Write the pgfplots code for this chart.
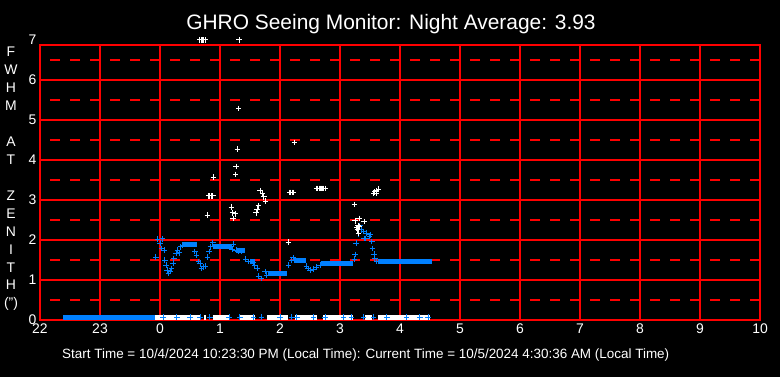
\documentclass[border=0pt]{standalone}
\usepackage{pgfplots}
\pgfplotsset{compat=1.18}
\usepackage{fontspec}
\setmainfont{Liberation Sans}
\definecolor{sblue}{RGB}{0,128,255}
\definecolor{gred}{RGB}{255,0,0}
\begin{document}
\begin{tikzpicture}[x=1bp,y=1bp]
\fill[black] (0,0) rectangle (780,377);
\begin{axis}[
  at={(40bp,57bp)}, anchor=south west,
  scale only axis, width=720bp, height=275bp,
  xmin=-2, xmax=10, ymin=0, ymax=6.875,
  clip=false,
  axis line style={gred, line width=1.5bp},
  xtick={-2,-1,0,1,2,3,4,5,6,7,8,9,10},
  xticklabels={22,23,0,1,2,3,4,5,6,7,8,9,10},
  ytick={0,1,2,3,4,5,6},
  minor ytick={0.5,1.5,2.5,3.5,4.5,5.5,6.5},
  major tick length=0pt, minor tick length=0pt,
  xmajorgrids, ymajorgrids, yminorgrids,
  major grid style={gred, line width=1.5bp},
  minor grid style={gred, line width=1.5bp, dash pattern=on 10bp off 10bp, dash phase=10bp},
  /pgf/number format/assume math mode=true,
  ticklabel style={white, font=\fontsize{14}{16}\selectfont},
  unbounded coords=jump,
]
% zero readings (bands)
\addplot[sblue, line width=5bp, no marks, yshift=2.8bp] coordinates {(-1.61,0) (-0.08,0)};
\addplot[white, line width=5bp, no marks, yshift=2.8bp] coordinates {
 (-0.08,0) (0.67,0) (nan,nan) (0.74,0) (0.77,0) (nan,nan) (0.88,0) (1.17,0) (nan,nan)
 (1.33,0) (1.58,0) (nan,nan) (1.78,0) (2.13,0) (nan,nan) (2.25,0) (2.62,0) (nan,nan)
 (2.72,0) (3.22,0) (nan,nan) (3.42,0) (3.53,0) (nan,nan) (3.63,0) (4.5,0)};
\addplot[sblue, only marks, mark=+, mark size=2.8bp, mark options={line width=1bp}, yshift=2.8bp] coordinates {
 (0.05,0) (0.28,0) (0.5,0) (0.67,0) (0.83,0) (1.15,0) (1.33,0) (1.56,0) (1.69,0) (2.0,0)
 (2.19,0) (2.28,0) (2.56,0) (2.75,0) (3.06,0) (3.19,0) (3.39,0) (3.56,0) (3.78,0) (4.11,0)
 (4.33,0) (4.47,0)};
% main seeing series: dense clusters
\addplot[sblue, line width=5bp, no marks] coordinates {
 (0.39,1.89) (0.61,1.89) (nan,nan) (0.88,1.85) (1.2,1.85) (nan,nan) (1.29,1.73) (1.42,1.73) (nan,nan)
 (1.5,1.46) (1.58,1.46) (nan,nan)
 (1.80,1.17) (2.12,1.17) (nan,nan) (2.23,1.5) (2.44,1.5) (nan,nan) (2.69,1.42) (3.22,1.42) (nan,nan)
 (3.64,1.475) (4.53,1.475)};
\addplot[sblue, only marks, mark=+, mark size=2.8bp, mark options={line width=1bp}] coordinates {
 (-0.067,1.57) (-0.04,2.02) (0.0,1.92) (0.04,2.03) (0.03,1.79) (0.07,1.75)
 (0.08,1.5) (0.10,1.375) (0.12,1.25) (0.14,1.17)
 (0.17,1.21) (0.19,1.29) (0.22,1.42) (0.23,1.54) (0.27,1.67) (0.29,1.75) (0.32,1.68) (0.34,1.83) (0.38,1.875)
 (0.58,1.71) (0.61,1.625) (0.64,1.46) (0.67,1.42) (0.69,1.29) (0.72,1.33) (0.75,1.35)
 (0.79,1.57) (0.82,1.71) (0.84,1.83) (0.88,1.93)
 (1.22,1.9) (1.2,1.77) (1.27,1.75) (1.3,1.71) (1.36,1.71)
 (1.43,1.52) (1.47,1.46) (1.5,1.46) (1.56,1.43) (1.58,1.375) (1.62,1.29)
 (1.64,1.1) (1.69,1.04) (1.75,1.21) (1.78,1.125)
 (2.14,1.375) (2.19,1.5) (2.22,1.56)
 (2.44,1.35) (2.47,1.29) (2.5,1.25) (2.56,1.27) (2.61,1.32) (2.67,1.375)
 (3.24,1.52) (3.25,1.64) (3.27,1.92) (3.29,2.27) (3.31,2.15) (3.32,2.54) (3.33,2.35) (3.36,2.25)
 (3.39,2.21) (3.4,2.04) (3.43,2.04) (3.44,2.17) (3.49,2.1) (3.5,2.125)
 (3.53,1.96) (3.54,1.79) (3.57,1.65) (3.58,1.54) (3.61,1.46)};
% outliers
\addplot[white, only marks, mark=+, mark size=2.8bp, mark options={line width=1bp}] coordinates {
 (0.66,7) (0.69,7) (0.71,7) (0.73,7) (0.75,7) (1.32,7)
 (1.31,5.29) (2.24,4.44) (1.29,4.27) (1.27,3.84) (1.26,3.64) (0.89,3.57)
 (0.81,3.1) (0.83,3.1) (0.86,3.1) (0.88,3.1) (0.79,2.62)
 (1.19,2.82) (1.21,2.68) (1.25,2.65) (1.22,2.54)
 (1.67,3.225) (1.71,3.17) (1.73,3.08) (1.76,2.97) (1.64,2.85) (1.62,2.77) (1.6,2.675)
 (2.16,3.19) (2.18,3.19) (2.2,3.19) (2.22,3.19)
 (2.61,3.29) (2.63,3.29) (2.65,3.29) (2.67,3.29) (2.69,3.29) (2.71,3.29) (2.73,3.29) (2.75,3.29)
 (2.14,1.95) (3.24,2.89) (3.25,2.48) (3.32,2.54) (3.4,2.46)
 (3.28,2.3) (3.29,2.25) (3.31,2.17) (3.3,2.35) (3.32,2.33)
 (3.56,3.17) (3.6,3.23) (3.64,3.27) (3.61,3.17) (3.58,3.2)};
\node[white, anchor=east, font=\fontsize{14}{16}\selectfont, inner sep=0.333em] at (axis cs:-2,7) {7};
\end{axis}
\node[white, font=\fontsize{21}{24}\selectfont] at (391,353) {GHRO Seeing Monitor: Night Average: 3.93};
\node[white, font=\fontsize{14}{18}\selectfont, align=center] at (11,198) {F\\W\\H\\M\\\mbox{}\\A\\T\\\mbox{}\\Z\\E\\N\\I\\T\\H\\(")};
\node[white, font=\fontsize{13.5}{15}\selectfont, anchor=west, inner sep=0pt] at (62,22) {Start Time = 10/4/2024 10:23:30 PM (Local Time): Current Time = 10/5/2024 4:30:36 AM (Local Time)};
\end{tikzpicture}
\end{document}
